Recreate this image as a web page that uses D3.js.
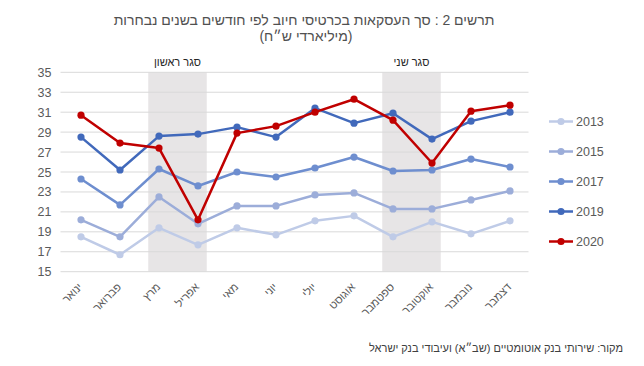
<!DOCTYPE html>
<html lang="he">
<head>
  <meta charset="UTF-8">
  <title>תרשים 2</title>
  <script src="https://d3js.org/d3.v7.min.js"></script>
  <style>
    body { margin: 0; background: #fff; }
    svg { font-family: "Liberation Sans", Arial, sans-serif; }
  </style>
</head>
<body>
  <svg width="644" height="366"></svg>

  <script>
    // months (x categories)
    const months = ['ינואר', 'פברואר', 'מרץ', 'אפריל', 'מאי', 'יוני', 'יולי', 'אוגוסט', 'ספטמבר', 'אוקטובר', 'נובמבר', 'דצמבר'];
    const yTicks = [15, 17, 19, 21, 23, 25, 27, 29, 31, 33, 35];

    // values, billions NIS
    const v2013 = [18.5, 16.7, 19.4, 17.7, 19.4, 18.7, 20.1, 20.6, 18.5, 20.0, 18.8, 20.1];
    const v2015 = [20.2, 18.5, 22.5, 19.8, 21.6, 21.6, 22.7, 22.9, 21.3, 21.3, 22.2, 23.1];
    const v2017 = [24.3, 21.7, 25.3, 23.6, 25.0, 24.5, 25.4, 26.5, 25.1, 25.2, 26.3, 25.5];
    const v2019 = [28.5, 25.2, 28.6, 28.8, 29.5, 28.5, 31.4, 29.9, 30.9, 28.3, 30.1, 31.0];
    const v2020 = [30.7, 27.9, 27.4, 20.2, 28.9, 29.6, 31.0, 32.3, 30.2, 25.9, 31.1, 31.7];

    const series = [
      { name: '2013', values: v2013, color: '#bfcbe7' },
      { name: '2015', values: v2015, color: '#9cadd9' },
      { name: '2017', values: v2017, color: '#6e8ecf' },
      { name: '2019', values: v2019, color: '#4169bb' },
      { name: '2020', values: v2020, color: '#c00000' }
    ];

    // lockdown periods
    const lockdowns = [
      { label: 'סגר ראשון', from: 'מרץ', to: 'אפריל' },
      { label: 'סגר שני', from: 'ספטמבר', to: 'אוקטובר' }
    ];

    const svg = d3.select('svg');
    const plotLeft = 61.5, plotRight = 529.5, plotTop = 72.3, plotBottom = 271.7;

    const x = d3.scaleBand().domain(months).range([plotLeft, plotRight]);
    const y = d3.scaleLinear().domain([15, 35]).range([plotBottom, plotTop]);
    const cx = m => x(m) + x.bandwidth() / 2;

    // shaded lockdown bands
    lockdowns.forEach(l => {
      const mid = (cx(l.from) + cx(l.to)) / 2 - 1;
      const w = x.step() * 1.5;
      svg.append('rect')
        .attr('x', mid - w / 2)
        .attr('y', plotTop)
        .attr('width', w)
        .attr('height', plotBottom - plotTop)
        .attr('fill', '#e7e5e6');
      svg.append('text')
        .attr('x', mid)
        .attr('y', 66)
        .attr('text-anchor', 'middle')
        .attr('direction', 'rtl')
        .attr('font-size', 11)
        .attr('fill', '#262626')
        .text(l.label);
    });

    // gridlines
    svg.selectAll('.grid')
      .data(yTicks)
      .enter().append('line')
      .attr('x1', plotLeft - 1)
      .attr('x2', plotRight - 1)
      .attr('y1', d => y(d))
      .attr('y2', d => y(d))
      .attr('stroke', '#d9d9d9')
      .attr('stroke-width', 1);

    // y axis labels
    const yAxis = svg.append('g')
      .attr('transform', `translate(${plotLeft - 10},0)`)
      .call(d3.axisLeft(y).tickValues(yTicks).tickSize(0).tickPadding(0));
    yAxis.select('.domain').remove();
    yAxis.selectAll('text')
      .attr('font-size', 12.5)
      .attr('font-family', '"Liberation Sans", Arial, sans-serif')
      .attr('fill', '#595959');

    // x axis labels, rotated, right end at the tick
    const xAxis = svg.append('g')
      .attr('transform', `translate(0,${plotBottom})`)
      .call(d3.axisBottom(x).tickSize(0).tickPadding(0));
    xAxis.select('.domain').remove();
    xAxis.selectAll('text')
      .attr('font-size', 11)
      .attr('font-family', '"Liberation Sans", Arial, sans-serif')
      .attr('fill', '#595959')
      .attr('direction', 'rtl')
      .attr('text-anchor', 'start')
      .attr('dy', 0)
      .attr('y', 0)
      .attr('transform', 'translate(2,16) rotate(-45)');

    // lines and markers
    const line = d3.line()
      .x((d, i) => cx(months[i]))
      .y(d => y(d));

    series.forEach(s => {
      svg.append('path')
        .datum(s.values)
        .attr('d', line)
        .attr('fill', 'none')
        .attr('stroke', s.color)
        .attr('stroke-width', 2.5)
        .attr('stroke-linejoin', 'round');
      svg.selectAll(null)
        .data(s.values)
        .enter().append('circle')
        .attr('cx', (d, i) => cx(months[i]))
        .attr('cy', d => y(d))
        .attr('r', 3.6)
        .attr('fill', s.color);
    });

    // legend
    const legend = svg.append('g');
    series.forEach((s, i) => {
      const ly = 121.5 + i * 30;
      legend.append('line')
        .attr('x1', 549).attr('x2', 573)
        .attr('y1', ly).attr('y2', ly)
        .attr('stroke', s.color).attr('stroke-width', 2.5);
      legend.append('circle')
        .attr('cx', 561).attr('cy', ly).attr('r', 3.6)
        .attr('fill', s.color);
      legend.append('text')
        .attr('x', 576).attr('y', ly)
        .attr('dy', '0.36em')
        .attr('font-size', 12.5)
        .attr('fill', '#595959')
        .text(s.name);
    });

    // title
    svg.append('text')
      .attr('x', 304).attr('y', 25)
      .attr('text-anchor', 'middle')
      .attr('direction', 'rtl')
      .attr('font-size', 14)
      .attr('fill', '#505050')
      .text('תרשים 2 : סך העסקאות בכרטיסי חיוב לפי חודשים בשנים נבחרות');
    svg.append('text')
      .attr('x', 306).attr('y', 41)
      .attr('text-anchor', 'middle')
      .attr('direction', 'rtl')
      .attr('font-size', 14)
      .attr('fill', '#505050')
      .text('(מיליארדי ש״ח)');

    // source
    svg.append('text')
      .attr('x', 623).attr('y', 352)
      .attr('text-anchor', 'start')
      .attr('direction', 'rtl')
      .attr('font-size', 11)
      .attr('fill', '#404040')
      .text('מקור: שירותי בנק אוטומטיים (שב״א) ועיבודי בנק ישראל');
  </script>
</body>
</html>
